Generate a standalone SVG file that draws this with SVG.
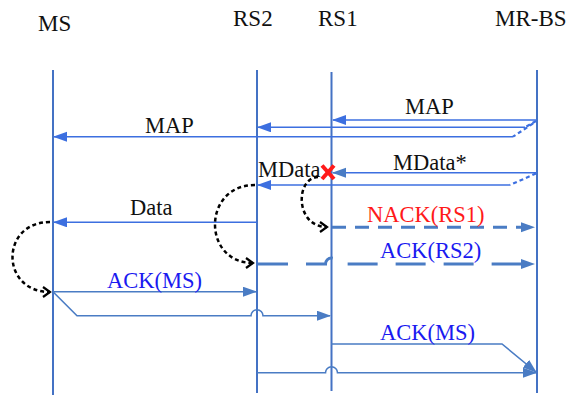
<svg xmlns="http://www.w3.org/2000/svg" width="569" height="397" viewBox="0 0 569 397">
<style>
.hdr{font-family:"Liberation Serif","Times New Roman",serif;font-size:23px;fill:#111}
.lbl{font-family:"Liberation Serif","Times New Roman",serif;font-size:22.5px;fill:#111}
.blue{fill:#1a1af0}
.red{fill:#ff1a1a}
.life{stroke:#4472c4;stroke-width:2;fill:none}
.msg{stroke:#3c6fe0;stroke-width:1.6;fill:none}
.msg2{stroke:#4a7cc4;stroke-width:1.6;fill:none}
.dash{stroke:#4a7cc4;stroke-width:3;fill:none;stroke-dasharray:14 9}
.dashl{stroke:#4a7cc4;stroke-width:3;fill:none;stroke-dasharray:30 18}
.dotb{stroke:#3c6fe0;stroke-width:2.2;fill:none;stroke-dasharray:4 3}
.curve{stroke:#000;stroke-width:2.5;fill:none;stroke-dasharray:4 3}
</style>
<defs>
<marker id="ah" markerUnits="userSpaceOnUse" markerWidth="14" markerHeight="12" refX="13" refY="5" orient="auto"><path d="M0,0 L14,5 L0,10 z" fill="#3c6fe0"/></marker>
<marker id="ah2" markerUnits="userSpaceOnUse" markerWidth="14" markerHeight="12" refX="13" refY="5" orient="auto"><path d="M0,0 L14,5 L0,10 z" fill="#4a7cc4"/></marker>
<marker id="open" markerUnits="userSpaceOnUse" markerWidth="12" markerHeight="12" refX="8" refY="6" orient="auto"><path d="M1,1 L8,6 L1,11" fill="none" stroke="#000" stroke-width="2.2"/></marker>
</defs>
<g id="MS"><text class="hdr" x="38" y="31">MS</text><line class="life" x1="53" y1="70" x2="53" y2="395"/></g>
<g id="RS2"><text class="hdr" x="233" y="26">RS2</text><line class="life" x1="257" y1="70" x2="257" y2="393"/></g>
<g id="RS1"><text class="hdr" x="318" y="26">RS1</text><line class="life" x1="331.5" y1="72" x2="331.5" y2="391"/></g>
<g id="MR-BS"><text class="hdr" x="495" y="26">MR-BS</text><line class="life" x1="537" y1="70" x2="537" y2="393"/></g>
<g id="connectors">
<line class="msg" x1="537" y1="120" x2="333" y2="120" marker-end="url(#ah)"/>
<line class="dotb" x1="536" y1="121" x2="525" y2="127.3"/>
<line class="msg" x1="525" y1="127.3" x2="258" y2="127.3" marker-end="url(#ah)"/>
<line class="dotb" x1="533" y1="123.5" x2="513" y2="136.7"/>
<line class="msg" x1="513" y1="136.7" x2="54" y2="136.7" marker-end="url(#ah)"/>
<text class="lbl" x="405" y="114">MAP</text>
<text class="lbl" x="145" y="133">MAP</text>
<line class="msg" x1="537" y1="172.7" x2="333" y2="172.7" marker-end="url(#ah2)"/>
<line class="dotb" x1="536" y1="173.5" x2="510" y2="185"/>
<line class="msg" x1="510" y1="185" x2="258" y2="185" marker-end="url(#ah)"/>
<text class="lbl" x="393" y="170">MData*</text>
<text class="lbl" x="258" y="177">MData</text>
<g stroke="#ff1a1a" stroke-width="4"><line x1="322" y1="165.5" x2="334" y2="179"/><line x1="334" y1="165.5" x2="322" y2="179"/></g>
<line class="msg" x1="257" y1="222.3" x2="54" y2="222.3" marker-end="url(#ah)"/>
<text class="lbl" x="130" y="215">Data</text>
<line class="dash" x1="332" y1="227.3" x2="534" y2="227.3" marker-end="url(#ah2)"/>
<text class="lbl red" x="367" y="222">NACK(RS1)</text>
<path class="dashl" d="M258,264 H325.5 A6,6 0 0 1 337.5,264 H534" marker-end="url(#ah2)"/>
<text class="lbl blue" x="380" y="258">ACK(RS2)</text>
<line class="msg2" x1="53" y1="291.7" x2="256" y2="291.7" marker-end="url(#ah2)"/>
<text class="lbl blue" x="107" y="288">ACK(MS)</text>
<path class="msg2" d="M53,291.7 L77,315.7 H251 A6,6 0 0 1 263,315.7 H330" marker-end="url(#ah2)"/>
<path class="msg2" d="M331,344 H502 L536,372" marker-end="url(#ah2)"/>
<text class="lbl blue" x="380" y="340">ACK(MS)</text>
<path class="msg2" d="M257,372.7 H325.5 A6,6 0 0 1 337.5,372.7 H536" marker-end="url(#ah2)"/>
<path class="curve" d="M50,222 C0,222 0,292 50,292" marker-end="url(#open)"/>
<path class="curve" d="M255,185 C202,185 202,263 253,263" marker-end="url(#open)"/>
<path class="curve" d="M318,177 C295,178 295,227 327,227" marker-end="url(#open)"/>
</g>
</svg>
